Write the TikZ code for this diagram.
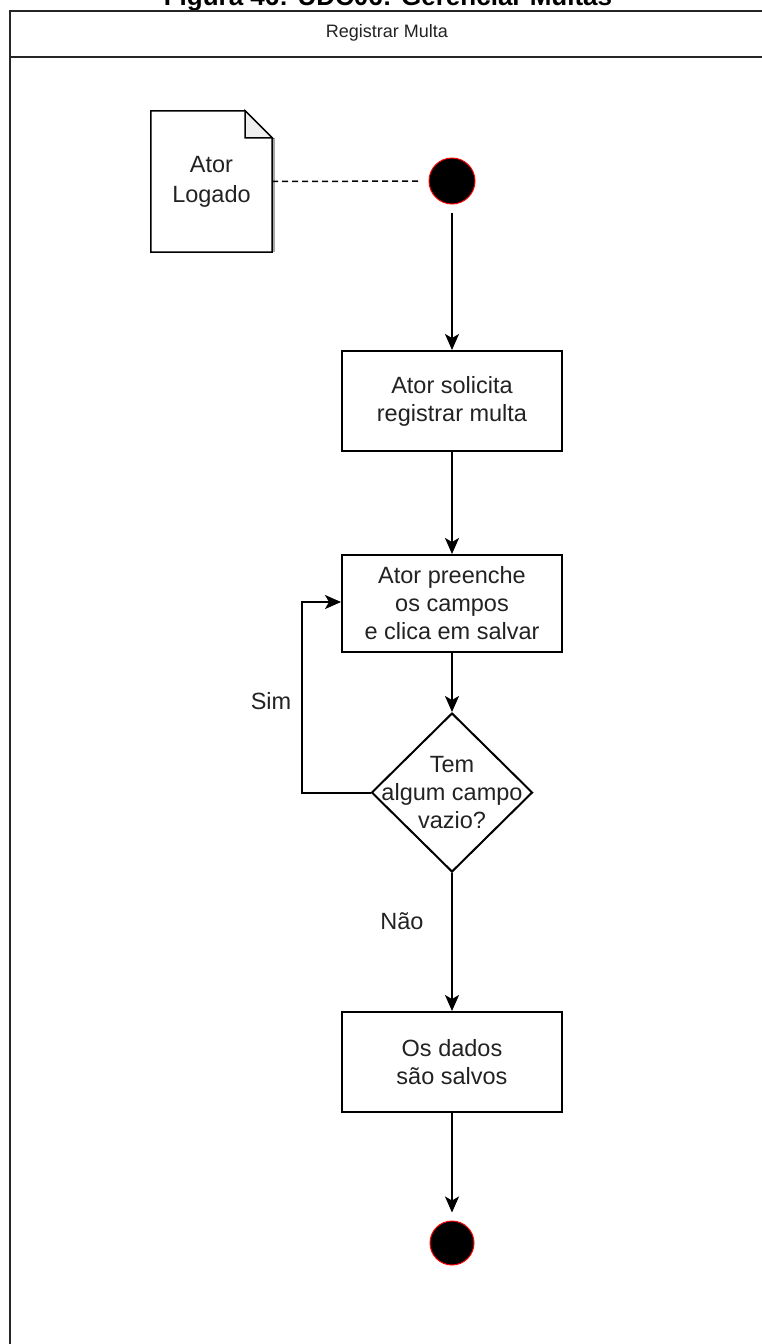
\documentclass[tikz,border=0pt]{standalone}
\usepackage{fontspec}
\setmainfont{Liberation Sans}
\usetikzlibrary{arrows.meta,shapes.geometric,calc}
\definecolor{txt}{HTML}{222222}
\definecolor{foldgray}{HTML}{EEEEEE}
\definecolor{startred}{HTML}{FF0000}

\begin{document}
\begin{tikzpicture}[x=1pt,y=-1pt,
  every node/.style={font=\fontsize{23.5}{28}\selectfont, text=txt, align=center, inner sep=0pt},
  stepbox/.style={draw=black, line width=2pt, minimum width=220pt, minimum height=100pt, fill=white},
  decision/.style={diamond, draw=black, line width=2pt, minimum width=161pt, minimum height=159pt},
  endpoint/.style={circle, fill=black, draw=startred, line width=1pt, minimum size=46pt},
  flow/.style={draw=black, line width=2pt, -{Stealth[length=16pt,width=14pt,inset=4pt]}},
  frame/.style={draw=black!85, line width=2pt},
  lbl/.style={font=\fontsize{23.5}{28}\selectfont}
]
\useasboundingbox (0,0) rectangle (762,1344);

% caption running off the top edge
\node[anchor=base, font=\bfseries\fontsize{26}{30}\selectfont, text=black] (caption) at (388,5) {Figura 46: UDC06: Gerenciar Multas};

% swimlane frame and header
\draw[frame] (10,1346) -- (10,11) -- (764,11);
\draw[frame] (10,57) -- (764,57);
\node[font=\fontsize{18}{22}\selectfont] (lane) at (387,33) {Registrar Multa};

% note with folded corner
\node[minimum width=121pt, minimum height=141pt] (note) at (211.5,181.5) {Ator\\[2pt]Logado};
\draw[draw=black!35, line width=3pt] ($(note.north east)+(1.5,27)$) -- ($(note.south east)+(1.5,0)$);
\draw[black, line width=1.5pt, fill=none]
  (note.north west) -- ($(note.north east)+(-27,0)$) -- ($(note.north east)+(0,27)$)
  -- (note.south east) -- (note.south west) -- cycle;
\draw[black, line width=1.5pt, fill=foldgray]
  ($(note.north east)+(-27,0)$) -- ($(note.north east)+(-27,27)$) -- ($(note.north east)+(0,27)$) -- cycle;

% start and end
\node[endpoint] (start) at (452,181) {};
\node[endpoint, minimum size=44pt] (stop) at (452,1243) {};

% activities
\node[stepbox] (req) at (452,401) {Ator solicita\\registrar multa};
\node[stepbox, minimum height=97pt] (fill) at (452,603.5) {Ator preenche\\os campos\\e clica em salvar};
\node[decision] (dec) at (452,792.5) {};
\node (dectext) at (dec.center) {Tem\\algum campo\\vazio?};
\node[stepbox] (save) at (452,1062) {Os dados\\são salvos};

% connectors
\draw[dashed, line width=1.5pt, dash pattern=on 6pt off 4pt, shorten >=9pt] (note.east) -- (start.west);
\draw[flow, shorten <=8pt] (start.south) -- (req.north);
\draw[flow] (req.south) -- (fill.north);
\draw[flow] (fill.south) -- (dec.north);
\coordinate (loopL) at (302,792.5);
\coordinate (loopT) at (302,602);
\draw[flow] (dec.west) -- (loopL) -- (loopT) -- (loopT -| fill.west);
\draw[flow] (dec.south) -- (save.north);
\draw[flow, shorten >=8pt] (save.south) -- (stop.north);

% branch labels
\node[lbl] (yes) at (271,701) {Sim};
\node[lbl] (no) at (402,921) {Não};
\end{tikzpicture}
\end{document}
